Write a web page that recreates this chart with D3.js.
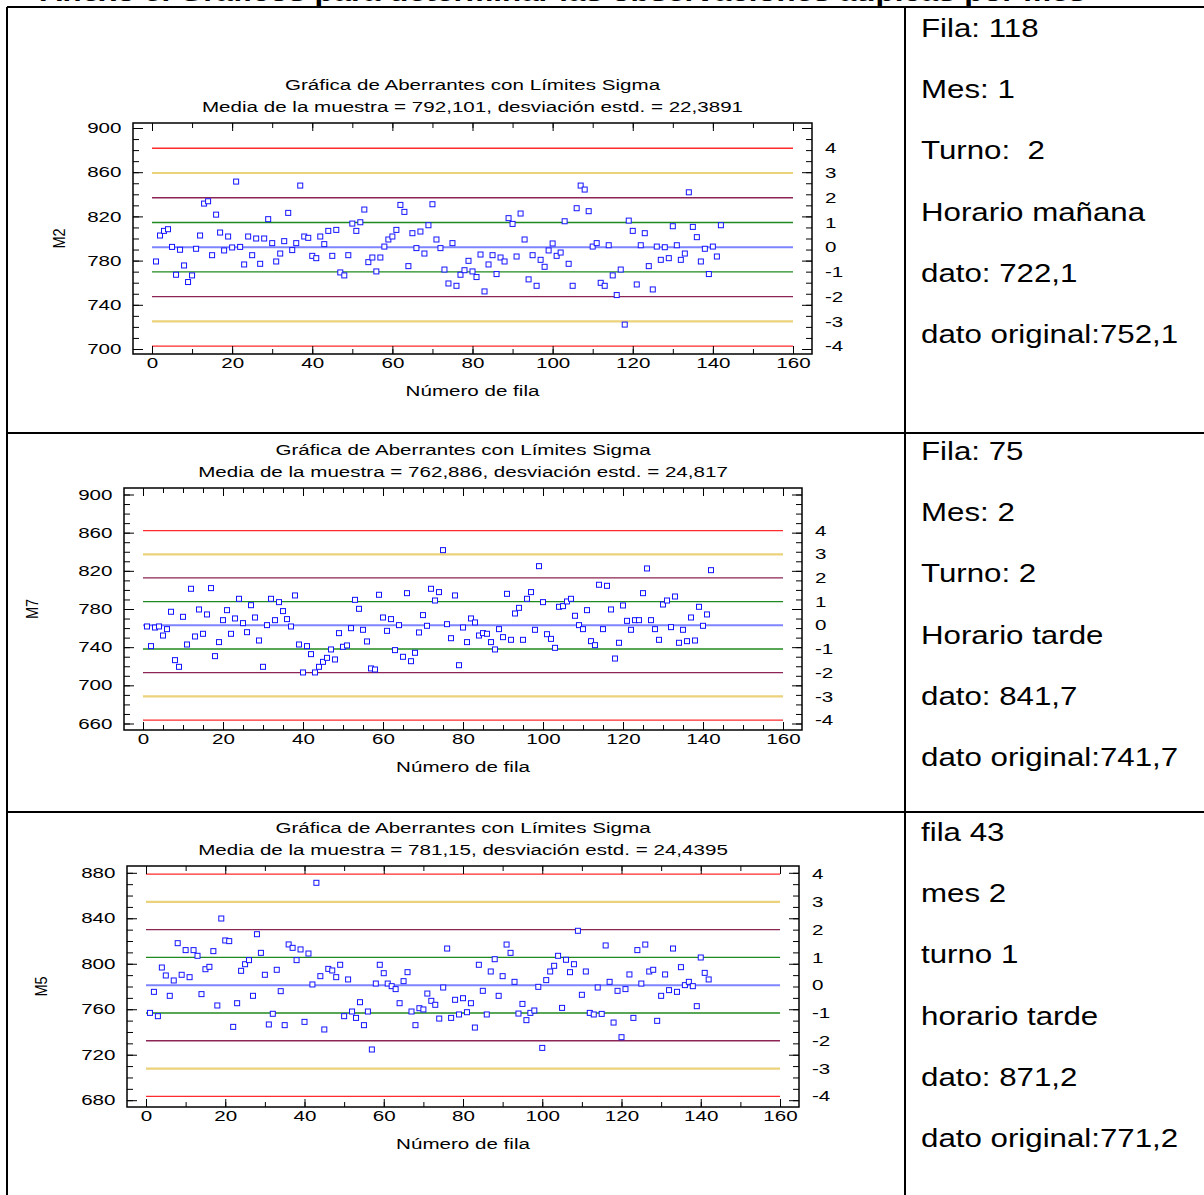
<!DOCTYPE html>
<html>
<head>
<meta charset="utf-8">
<script src="https://cdn.jsdelivr.net/npm/d3@7"></script>
<style>
body { margin: 0; background: #ffffff; }
svg text { font-family: Arial, "Liberation Sans", sans-serif; fill: #000; }
</style>
</head>
<body>
<div id="page"></div>
<script>
//
// Data (Gráfica de Aberrantes con Límites Sigma)
//
var rowNumbers = d3.range(1, 143);

var m2Values = [779.2, 802.7, 806.9, 808.4, 792.4, 767.2, 789.8, 775.6, 760.6, 766.6,
	790.7, 802.7, 831.6, 833.7, 784.9, 821.6, 805.4, 789.2, 801.8, 791.9,
	851.5, 792.4, 776.5, 801.8, 784.9, 800.0, 777.1, 800.0, 817.5, 795.8,
	779.2, 786.4, 797.6, 823.2, 789.5, 795.8, 847.9, 801.8, 800.6, 784.3,
	782.2, 801.8, 794.9, 806.9, 784.3, 807.8, 769.3, 766.6, 784.9, 813.5,
	806.9, 814.7, 826.2, 778.6, 782.8, 770.2, 782.8, 792.7, 799.1, 801.8,
	807.8, 830.4, 824.1, 775.0, 804.8, 791.3, 806.3, 786.4, 812.0, 831.0,
	799.1, 791.3, 771.9, 759.3, 795.8, 757.2, 767.2, 771.3, 779.8, 770.2,
	765.1, 785.5, 752.1, 776.5, 784.9, 767.8, 782.8, 779.2, 818.4, 813.2,
	783.7, 822.6, 799.1, 763.0, 784.9, 757.2, 780.7, 774.4, 789.2, 795.5,
	784.3, 787.3, 815.6, 777.1, 757.2, 827.4, 847.9, 844.3, 824.7, 792.7,
	795.8, 759.9, 757.2, 793.9, 766.6, 748.8, 771.9, 722.1, 816.2, 806.9,
	758.4, 793.9, 804.8, 775.0, 753.9, 792.7, 780.7, 792.1, 782.2, 811.1,
	793.9, 780.7, 786.4, 841.8, 810.5, 801.2, 779.2, 790.7, 767.8, 792.7,
	783.7, 812.0];

var m7Values = [761.7, 741.1, 760.6, 761.7, 752.2, 758.9, 777.1, 726.4, 719.4, 771.8,
	742.8, 801.2, 751.2, 779.5, 754.0, 774.3, 801.9, 730.6, 745.3, 768.3,
	778.8, 754.0, 770.1, 790.7, 765.2, 755.7, 784.0, 771.1, 747.0, 719.4,
	763.1, 790.7, 768.3, 787.2, 777.8, 769.4, 761.7, 794.2, 742.8, 713.5,
	741.1, 732.7, 713.5, 719.4, 724.6, 728.8, 737.6, 727.1, 754.7, 740.4,
	741.8, 759.9, 789.6, 780.2, 758.2, 746.0, 717.7, 716.6, 794.9, 771.1,
	757.1, 769.4, 736.9, 763.1, 729.9, 796.6, 725.3, 734.1, 755.4, 773.6,
	762.4, 801.2, 788.9, 797.7, 841.7, 764.1, 749.4, 794.2, 721.1, 760.6,
	745.3, 770.1, 765.9, 752.2, 754.7, 754.0, 745.3, 737.6, 758.9, 750.5,
	795.9, 747.7, 775.3, 781.2, 747.7, 790.7, 797.7, 758.2, 824.9, 787.2,
	753.6, 748.7, 739.3, 782.3, 783.0, 787.9, 790.7, 772.9, 763.1, 758.9,
	778.8, 746.3, 742.1, 805.4, 758.9, 804.3, 779.5, 728.1, 744.6, 783.7,
	767.6, 758.2, 768.3, 768.3, 796.6, 822.5, 768.3, 758.9, 747.7, 784.7,
	788.9, 761.0, 793.1, 744.6, 758.2, 746.3, 771.1, 747.0, 782.3, 762.4,
	774.3, 820.7];

var m5Values = [756.8, 775.3, 753.9, 796.7, 789.7, 771.8, 785.3, 818.1, 790.3, 812.0,
	788.2, 812.0, 807.0, 773.3, 795.2, 797.3, 811.1, 763.3, 839.8, 820.5,
	819.9, 744.5, 765.3, 793.8, 799.6, 803.2, 771.8, 826.0, 809.6, 790.3,
	746.6, 756.0, 794.7, 775.9, 746.0, 817.0, 814.0, 803.2, 812.6, 748.9,
	809.0, 781.8, 871.2, 789.1, 742.2, 795.5, 794.1, 788.2, 799.1, 753.9,
	786.2, 758.0, 752.4, 766.2, 746.0, 758.0, 724.6, 782.6, 799.1, 791.7,
	782.6, 780.3, 777.7, 765.3, 784.7, 792.6, 758.0, 746.0, 760.9, 759.8,
	773.8, 767.4, 763.9, 751.8, 779.1, 813.4, 752.4, 768.3, 755.4, 769.7,
	757.4, 765.3, 743.9, 799.1, 776.2, 755.4, 793.2, 804.0, 771.8, 789.1,
	816.9, 809.6, 784.1, 756.2, 764.7, 750.4, 756.8, 758.9, 779.7, 726.0,
	785.6, 793.2, 798.2, 807.0, 761.2, 803.5, 792.6, 799.6, 829.0, 772.7,
	793.2, 756.8, 755.4, 779.1, 755.9, 816.1, 784.1, 748.3, 776.2, 735.4,
	777.7, 790.6, 752.4, 812.0, 782.6, 816.9, 793.2, 794.7, 749.8, 771.8,
	790.6, 776.8, 813.4, 775.3, 797.0, 781.2, 784.1, 780.3, 762.7, 805.5,
	792.0, 786.2];

var variableNames = ["M2", "M7", "M5"];
var sampleMeans = [792.101, 762.886, 781.15];
var sampleSds = [22.3891, 24.817, 24.4395];
var meanLabels = ["792,101", "762,886", "781,15"];
var sdLabels = ["22,3891", "24,817", "24,4395"];

var yTicksM2 = [700, 740, 780, 820, 860, 900];
var yTicksM7 = [660, 700, 740, 780, 820, 860, 900];
var yTicksM5 = [680, 720, 760, 800, 840, 880];
var xTicks = [0, 20, 40, 60, 80, 100, 120, 140, 160];
var sigmaLevels = [4, 3, 2, 1, 0, -1, -2, -3, -4];

var notesM2 = ["Fila: 118", "Mes: 1", "Turno:  2", "Horario mañana", "dato: 722,1", "dato original:752,1"];
var notesM7 = ["Fila: 75", "Mes: 2", "Turno: 2", "Horario tarde", "dato: 841,7", "dato original:741,7"];
var notesM5 = ["fila 43", "mes 2", "turno 1", "horario tarde", "dato: 871,2", "dato original:771,2"];

var chartTitle = "Gráfica de Aberrantes con Límites Sigma";
var xTitle = "Número de fila";
var pageHeading = "Anexo 5. Gráficos para determinar las observaciones atípicas por mes";

//
// Layout: one svg, a document table with a chart cell and a text cell per row
//
var width = 1204, height = 1195;
var chartFont = 14.5, chartStretch = 1.42;
var noteFont = 26.5, noteStretch = 1.18;

var panels = [
	{values: m2Values, yTicks: yTicksM2, box: {x0: 133, y0: 123, x1: 812, y1: 354}, padX: 19, padY: 5, xMinor: 10, yLabelDx: -68, notes: notesM2, noteTop: 37},
	{values: m7Values, yTicks: yTicksM7, box: {x0: 124, y0: 488, x1: 802, y1: 730}, padX: 19, padY: 6.5, xMinor: 5, yLabelDx: -86, notes: notesM7, noteTop: 460},
	{values: m5Values, yTicks: yTicksM5, box: {x0: 127, y0: 866, x1: 799, y1: 1107}, padX: 19, padY: 6.8, xMinor: 10, yLabelDx: -80, notes: notesM5, noteTop: 841}
];

var limitStyle = {
	4: {color: "#ff2a2a", w: 1.3},
	3: {color: "#ecd27a", w: 2.2},
	2: {color: "#8c2455", w: 1.3},
	1: {color: "#1f8a1f", w: 1.3},
	0: {color: "#7d85ff", w: 2}
};

var svg = d3.select("#page").append("svg")
	.attr("width", width)
	.attr("height", height);

svg.append("rect")
	.attr("width", width)
	.attr("height", height)
	.style("fill", "#ffffff");

//
// Helper: text that is stretched horizontally like the scanned document
//
function stretchText(g, x, y, str, size, sx, anchor) {
	return g.append("text")
		.attr("transform", "translate(" + x + "," + y + ") scale(" + sx + ",1)")
		.attr("text-anchor", anchor || "start")
		.style("font-size", size + "px")
		.style("white-space", "pre")
		.text(str);
}

//
// Heading cut by the top of the page
//
stretchText(svg, 40, 1, pageHeading, noteFont, noteStretch, "start")
	.style("font-weight", "bold");

//
// Table lines
//
var table = svg.append("g")
	.style("stroke", "#000")
	.style("stroke-width", 2)
	.style("fill", "none");

table.append("line").attr("x1", 7).attr("y1", 7).attr("x2", width).attr("y2", 7);
table.append("line").attr("x1", 7).attr("y1", 7).attr("x2", 7).attr("y2", height);
table.append("line").attr("x1", 905).attr("y1", 7).attr("x2", 905).attr("y2", height);
table.append("line").attr("x1", 7).attr("y1", 433).attr("x2", width).attr("y2", 433);
table.append("line").attr("x1", 7).attr("y1", 812).attr("x2", width).attr("y2", 812);

//
// Draw the three charts
//
panels.forEach(function(p, i) {

	var b = p.box;
	var mean = sampleMeans[i], sd = sampleSds[i];
	var yMin = d3.min(p.yTicks), yMax = d3.max(p.yTicks);

	var x = d3.scaleLinear().domain([0, 160]).range([b.x0 + p.padX, b.x1 - p.padX]);
	var y = d3.scaleLinear().domain([yMin, yMax]).range([b.y1 - p.padY, b.y0 + p.padY]);
	var s = d3.scaleLinear().domain([(yMin - mean) / sd, (yMax - mean) / sd]).range(y.range());

	var g = svg.append("g");

	// titles
	stretchText(g, (b.x0 + b.x1) / 2, b.y0 - 33, chartTitle, chartFont, chartStretch, "middle");
	stretchText(g, (b.x0 + b.x1) / 2, b.y0 - 11,
		"Media de la muestra = " + meanLabels[i] + ", desviación estd. = " + sdLabels[i],
		chartFont, chartStretch, "middle");

	// frame
	g.append("rect")
		.attr("x", b.x0)
		.attr("y", b.y0)
		.attr("width", b.x1 - b.x0)
		.attr("height", b.y1 - b.y0)
		.style("fill", "none")
		.style("stroke", "#000")
		.style("stroke-width", 1.5);

	// sigma limit lines
	g.selectAll(".limit")
		.data(sigmaLevels)
		.enter().append("line")
		.attr("x1", x(0))
		.attr("x2", x(160))
		.attr("y1", function(k) { return y(mean + k * sd); })
		.attr("y2", function(k) { return y(mean + k * sd); })
		.style("stroke", function(k) { return limitStyle[Math.abs(k)].color; })
		.style("stroke-width", function(k) { return limitStyle[Math.abs(k)].w; });

	// axes: ticks point inward, labels stretched
	function styleAxis(a) {
		a.select(".domain").remove();
		a.selectAll("line").style("stroke", "#000").style("stroke-width", 1);
		a.selectAll("text")
			.style("font-size", chartFont + "px")
			.style("font-family", "Arial, 'Liberation Sans', sans-serif")
			.each(function() {
				var t = d3.select(this);
				var tx = +t.attr("x") || 0, ty = +t.attr("y") || 0;
				t.attr("x", 0).attr("y", 0)
					.attr("transform", "translate(" + tx + "," + ty + ") scale(" + chartStretch + ",1)");
			});
	}

	var yMinor = d3.range(yMin, yMax + 0.1, 10);
	var xMinor = d3.range(0, 160.1, p.xMinor);

	g.append("g").attr("transform", "translate(" + b.x0 + ",0)")
		.call(d3.axisLeft(y).tickValues(yMinor).tickFormat("").tickSize(-6)).call(styleAxis);
	g.append("g").attr("transform", "translate(" + b.x0 + ",0)")
		.call(d3.axisLeft(y).tickValues(p.yTicks).tickSize(-10).tickPadding(11.5)).call(styleAxis);

	g.append("g").attr("transform", "translate(" + b.x1 + ",0)")
		.call(d3.axisRight(y).tickValues(yMinor).tickFormat("").tickSize(-6)).call(styleAxis);
	g.append("g").attr("transform", "translate(" + b.x1 + ",0)")
		.call(d3.axisRight(y).tickValues(p.yTicks).tickFormat("").tickSize(-10)).call(styleAxis);
	g.append("g").attr("transform", "translate(" + b.x1 + ",0)")
		.call(d3.axisRight(s).tickValues(sigmaLevels)
			.tickFormat(function(d) { return String(d); })
			.tickSize(0).tickPadding(13)).call(styleAxis);

	g.append("g").attr("transform", "translate(0," + b.y1 + ")")
		.call(d3.axisBottom(x).tickValues(xMinor).tickFormat("").tickSize(-5)).call(styleAxis);
	g.append("g").attr("transform", "translate(0," + b.y1 + ")")
		.call(d3.axisBottom(x).tickValues(xTicks).tickSize(-8).tickPadding(4)).call(styleAxis);
	g.append("g").attr("transform", "translate(0," + b.y0 + ")")
		.call(d3.axisTop(x).tickValues(xMinor).tickFormat("").tickSize(-5)).call(styleAxis);
	g.append("g").attr("transform", "translate(0," + b.y0 + ")")
		.call(d3.axisTop(x).tickValues(xTicks).tickFormat("").tickSize(-8)).call(styleAxis);

	// axis titles
	stretchText(g, (b.x0 + b.x1) / 2, b.y1 + 42, xTitle, chartFont, chartStretch, "middle");
	g.append("text")
		.attr("transform", "translate(" + (b.x0 + p.yLabelDx) + "," + ((b.y0 + b.y1) / 2) + ") rotate(-90) scale(1,1.2)")
		.attr("text-anchor", "middle")
		.style("font-size", chartFont + "px")
		.text(variableNames[i]);

	// points
	g.selectAll(".pt")
		.data(p.values)
		.enter().append("rect")
		.attr("x", function(d, j) { return x(rowNumbers[j]) - 2.5; })
		.attr("y", function(d) { return y(d) - 2.5; })
		.attr("width", 5)
		.attr("height", 5)
		.style("fill", "#fff")
		.style("stroke", "#1414ff")
		.style("stroke-width", 1);

	// text cell of the row
	p.notes.forEach(function(n, k) {
		stretchText(svg, 921, p.noteTop + k * 61.2, n, noteFont, noteStretch, "start");
	});
});
</script>
</body>
</html>
